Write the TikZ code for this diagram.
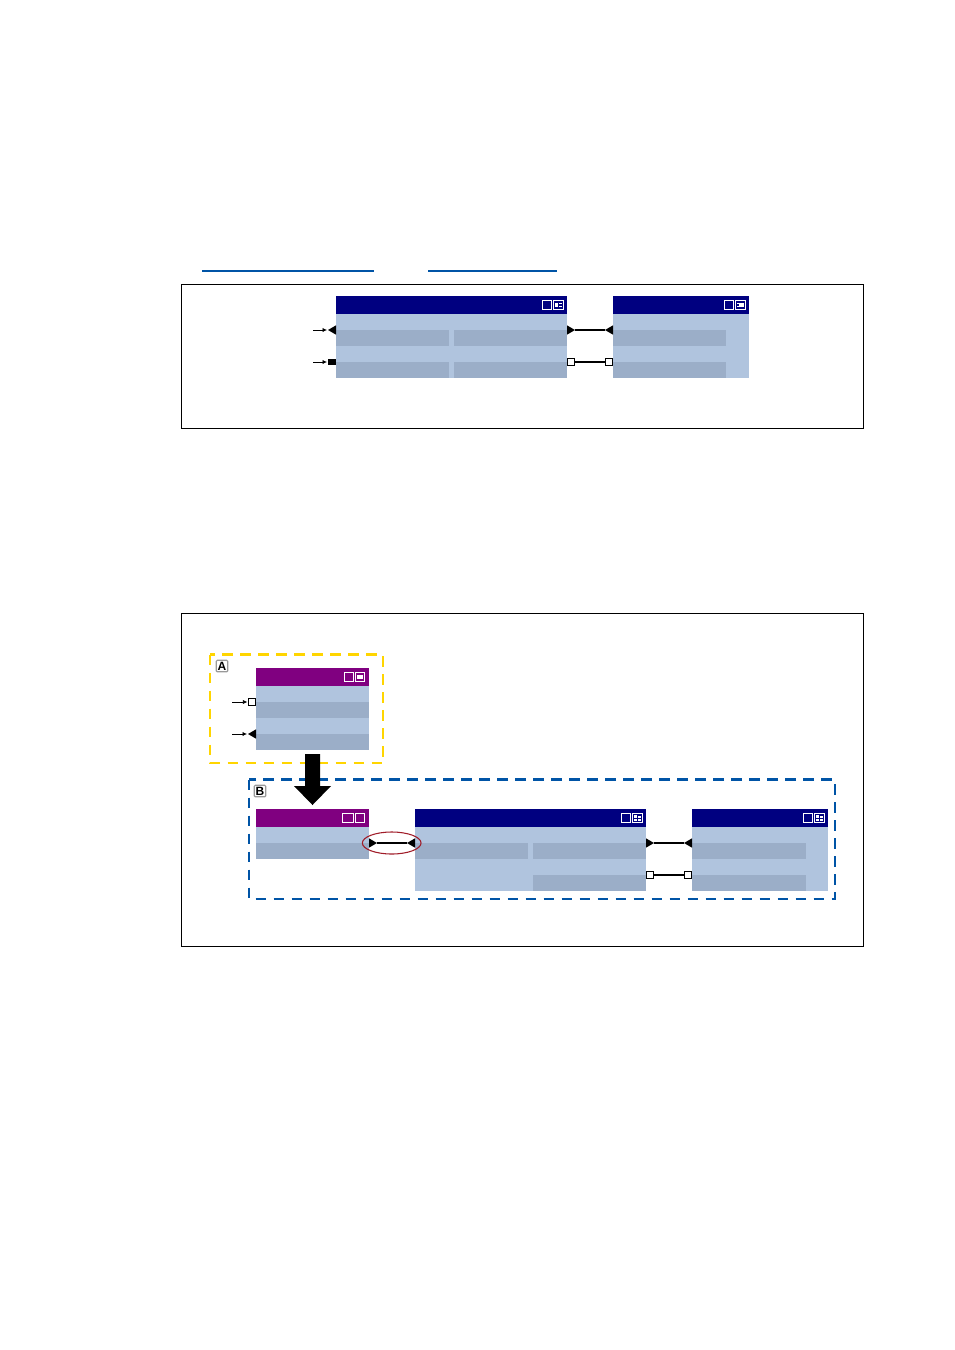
\documentclass[tikz,border=0pt]{standalone}
\usepackage{fontspec}
\setmainfont{Liberation Sans}
\usetikzlibrary{shapes.geometric,arrows.meta}
\definecolor{navyhead}{HTML}{000080}
\definecolor{purplehead}{HTML}{800080}
\definecolor{bodyblue}{HTML}{B0C4DE}
\definecolor{rowblue}{HTML}{9BAEC8}
\definecolor{linkblue}{HTML}{0054A6}
\definecolor{dashyellow}{HTML}{FFD500}
\definecolor{ringred}{HTML}{A01C28}
\tikzset{
  px/.style={x=0.75pt,y=-0.75pt},
  frame/.style={draw=black,line width=0.75pt},
  box/.style={rectangle,anchor=north west,inner sep=0pt,outer sep=0pt,draw=none},
  icon/.style={draw=white,line width=0.75pt},
  iconmark/.style={fill=white,draw=none},
  porttri/.style={isosceles triangle,isosceles triangle apex angle=60,isosceles triangle stretches,
     minimum width=7pt,minimum height=6pt,inner sep=0pt,outer sep=0pt,fill=black,anchor=apex},
  portsq/.style={rectangle,minimum size=5.4pt,inner sep=0pt,outer sep=0pt,draw=black,line width=0.85pt,fill=white},
  portsolid/.style={rectangle,minimum width=6pt,minimum height=5pt,inner sep=0pt,outer sep=0pt,fill=black},
  wire/.style={draw=black,line width=1.6pt},
  feed/.style={draw=black,line width=0.6pt,-{Latex[length=3.4pt,width=3.2pt]},shorten >=0.7pt},
  yellowdash/.style={draw=dashyellow,line width=1.6pt,dash pattern=on 8.2pt off 5.3pt},
  bluedash/.style={draw=linkblue,line width=2pt,dash pattern=on 8.2pt off 5.3pt},
  tag/.style={rectangle,rounded corners=0.8pt,draw=black!40,line width=0.9pt,fill=white,inner sep=0pt,
     minimum size=8.6pt,font=\bfseries\fontsize{9}{9}\selectfont,text=black},
  link/.style={draw=linkblue,line width=1.5pt}
}
% #1 name, #2 x0, #3 x1, #4 head top, #5 body bottom, #6 head colour
\newcommand{\blk}[6]{%
  \node[box,fill=#6,minimum width={(#3-#2)*0.75pt},minimum height=13.5pt] (#1h) at (#2,#4) {};
  \node[box,fill=bodyblue,minimum width={(#3-#2)*0.75pt},minimum height={(#5-#4-18)*0.75pt}] (#1b) at (#2,#4+18) {};
}
% #1 name, #2 x0, #3 x1, #4 y0
\newcommand{\rowbar}[4]{%
  \node[box,fill=rowblue,minimum width={(#3-#2)*0.75pt},minimum height=12pt] (#1) at (#2,#4) {};
}
\newcommand{\ico}[2]{\draw[icon] (#1+0.5,#2+0.5) rectangle (#1+9.5,#2+9.5);}
\newcommand{\icoW}[2]{\draw[icon] (#1+0.5,#2+0.5) rectangle (#1+10.5,#2+9.5);}
\newcommand{\icoA}[2]{\icoW{#1}{#2}\fill[iconmark] (#1+2,#2+3) rectangle (#1+5,#2+7);\fill[iconmark] (#1+6,#2+3) rectangle (#1+9,#2+4);\fill[iconmark] (#1+6,#2+5.5) rectangle (#1+9,#2+7);}
\newcommand{\icoB}[2]{\icoW{#1}{#2}\fill[iconmark] (#1+2,#2+3) rectangle (#1+9,#2+7);\fill[navyhead] (#1+2,#2+4.3) rectangle (#1+3.6,#2+5.7);}
\newcommand{\icoC}[2]{\ico{#1}{#2}\fill[iconmark] (#1+2,#2+3) rectangle (#1+8,#2+7);}
\newcommand{\icoD}[2]{\icoW{#1}{#2}\fill[iconmark] (#1+2,#2+2) rectangle (#1+5,#2+5);\fill[iconmark] (#1+6,#2+3) rectangle (#1+9,#2+4.5);\fill[iconmark] (#1+2,#2+6.3) rectangle (#1+5,#2+7.5);\fill[iconmark] (#1+6,#2+6.3) rectangle (#1+9,#2+7.5);}
\begin{document}
\begin{tikzpicture}[px]
\useasboundingbox (0,0) rectangle (954,1350);
\fill[white] (0,0) rectangle (954,1350);

% top underlines
\coordinate (u1a) at (202,271); \coordinate (u1b) at (374,271);
\coordinate (u2a) at (428,271); \coordinate (u2b) at (557,271);
\draw[link] (u1a) -- (u1b);
\draw[link] (u2a) -- (u2b);

% frames
\draw[frame] (181.5,284.5) rectangle (863.5,428.5);
\draw[frame] (181.5,613.5) rectangle (863.5,946.5);

% upper picture
\blk{one}{336}{567}{296}{378}{navyhead}
\rowbar{oneA}{336}{449}{330}
\rowbar{oneB}{454}{567}{330}
\rowbar{oneC}{336}{449}{362}
\rowbar{oneD}{454}{567}{362}
\ico{542}{300}\icoA{553}{300}

\blk{two}{613}{749}{296}{378}{navyhead}
\rowbar{twoA}{613}{726}{330}
\rowbar{twoB}{613}{726}{362}
\ico{724}{300}\icoB{735}{300}

\node[porttri,shape border rotate=180] (pIn) at (328,330) {};
\node[portsolid] (pInS) at (332,362) {};
\coordinate (fa) at (313,330);
\coordinate (fb) at (313,362);
\draw[feed] (fa) -- (pIn.apex);
\draw[feed] (fb) -- (pInS.west);

\node[porttri] (oneOut) at (575,330) {};
\node[porttri,shape border rotate=180] (twoIn) at (605,330) {};
\draw[wire] (oneOut.apex) -- (twoIn.apex);
\node[portsq] (oneSq) at (571,362) {};
\node[portsq] (twoSq) at (609,362) {};
\draw[wire] (oneSq.east) -- (twoSq.west);

% lower picture: group A
\draw[yellowdash] (210,654.5) rectangle (383,763);
\node[tag] (tagA) at (222,666) {A};
\blk{ca}{256}{369}{668}{750}{purplehead}
\rowbar{caA}{256}{369}{702}
\rowbar{caB}{256}{369}{734}
\ico{344}{672}\icoC{355}{672}
\node[portsq] (caSq) at (252,702) {};
\node[porttri,shape border rotate=180] (caTri) at (248,734) {};
\coordinate (fc) at (232,702);
\coordinate (fd) at (232,734);
\draw[feed] (fc) -- (caSq.west);
\draw[feed] (fd) -- (caTri.apex);

% group B
\draw[bluedash] (249,779.5) rectangle (835,899);
\node[tag] (tagB) at (260,791) {B};

% big arrow
\fill[black] (305,754) -- (320,754) -- (320,786) -- (331,786) -- (312.5,805) -- (294,786) -- (305,786) -- cycle;

\blk{cb}{256}{369}{809}{859}{purplehead}
\rowbar{cbA}{256}{369}{843}
\draw[icon] (342.5,813.5) rectangle (353.5,822.5);
\ico{355}{813}

\blk{three}{415}{646}{809}{891}{navyhead}
\rowbar{threeA}{415}{528}{843}
\rowbar{threeB}{533}{646}{843}
\rowbar{threeC}{533}{646}{875}
\ico{621}{813}\icoD{632}{813}

\blk{four}{692}{828}{809}{891}{navyhead}
\rowbar{fourA}{692}{806}{843}
\rowbar{fourB}{692}{806}{875}
\ico{803}{813}\icoD{814}{813}

\node[porttri] (cbOut) at (377,843) {};
\node[porttri,shape border rotate=180] (threeIn) at (407,843) {};
\draw[wire] (cbOut.apex) -- (threeIn.apex);
\node[draw=ringred,line width=0.8pt,ellipse,minimum width=44pt,minimum height=16.5pt,inner sep=0pt] (ring) at (391.7,843) {};

\node[porttri] (threeOut) at (654,843) {};
\node[porttri,shape border rotate=180] (fourIn) at (684,843) {};
\draw[wire] (threeOut.apex) -- (fourIn.apex);
\node[portsq] (threeSq) at (650,875) {};
\node[portsq] (fourSq) at (688,875) {};
\draw[wire] (threeSq.east) -- (fourSq.west);
\end{tikzpicture}
\end{document}
